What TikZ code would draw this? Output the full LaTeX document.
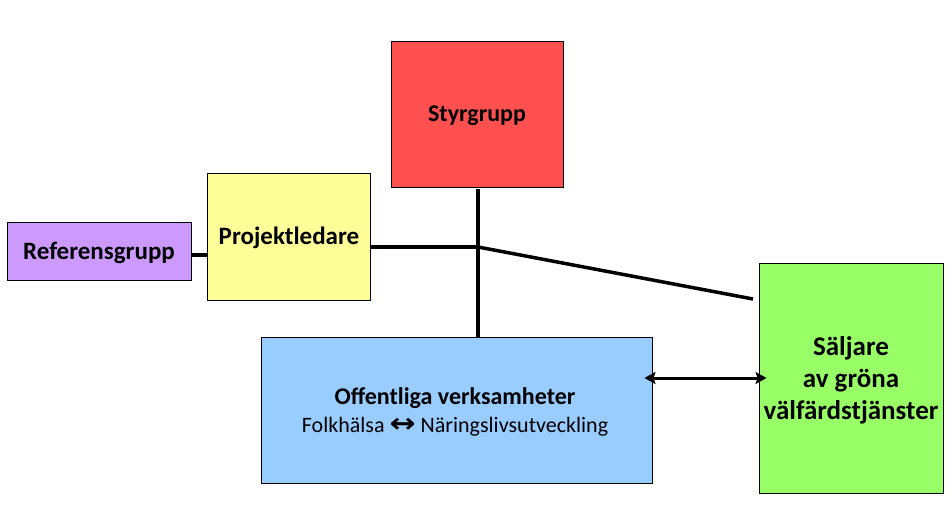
\documentclass[tikz,border=0pt]{standalone}
\usepackage{fontspec}
\setmainfont{Carlito}
\newfontfamily\symfont{DejaVu Sans}
\usetikzlibrary{arrows.meta}
\definecolor{cRed}{HTML}{FF5050}
\definecolor{cYel}{HTML}{FFFF99}
\definecolor{cPur}{HTML}{CC99FF}
\definecolor{cBlu}{HTML}{99CCFF}
\definecolor{cGrn}{HTML}{99FF66}
\tikzset{
  box/.style={draw=black, line width=0.9pt, inner sep=0pt, align=center, font=\bfseries\fontsize{25}{30}\selectfont},
  conn/.style={line width=4.5pt},
  dbl/.style={line width=3pt, {Stealth[length=11pt,width=12pt,inset=2pt]}-{Stealth[length=11pt,width=12pt,inset=2pt]}}
}
\begin{document}
\begin{tikzpicture}[x=1pt,y=-1pt]
\useasboundingbox (0,0) rectangle (952,512);
\node[box, fill=cPur, minimum width=184pt, minimum height=58pt] (ref) at (99,251) {};
\node[box, fill=cYel, minimum width=163pt, minimum height=127pt] (proj) at (288.5,236.5) {};
\node[box, fill=cRed, minimum width=172pt, minimum height=146pt] (sty) at (477,114) {};
\node[box, fill=cBlu, minimum width=391pt, minimum height=146pt] (off) at (456.5,410) {};
\node[box, fill=cGrn, minimum width=184pt, minimum height=230pt] (sal) at (851,378) {};
\node[font=\bfseries\fontsize{25}{30}\selectfont] (reft) at (99,253) {Referensgrupp};
\node[font=\bfseries\fontsize{25}{30}\selectfont] (projt) at (289,238) {Projektledare};
\node[font=\bfseries\fontsize{24}{30}\selectfont] (styt) at (477,116) {Styrgrupp};
\node[font=\bfseries\fontsize{24}{28}\selectfont] (offt) at (455,398) {Offentliga verksamheter};
\node[font=\fontsize{22}{24}\selectfont] (offs) at (455,427) {Folkhälsa {\symfont\bfseries\fontsize{24}{24}\selectfont\scalebox{1.3}[1.1]{↔}} Näringslivsutveckling};
\node[font=\bfseries\fontsize{27}{32}\selectfont, align=center] (salt) at (851,380) {Säljare\\av gröna\\välfärdstjänster};
\coordinate (c1) at (0,255);
\coordinate (J) at (478,247);
\coordinate (V) at (478,189);
\coordinate (D) at (753,299);
\coordinate (c2) at (0,378);
\draw[conn] (ref.east |- c1) -- (proj.west |- c1);
\draw[conn] (proj.east |- J) -- (J);
\draw[conn] (V) -- (off.north -| V);
\draw[line width=3.5pt] (J) -- (D);
\draw[dbl] ([xshift=-8pt]off.east |- c2) -- ([xshift=8pt]sal.west |- c2);
\end{tikzpicture}
\end{document}
